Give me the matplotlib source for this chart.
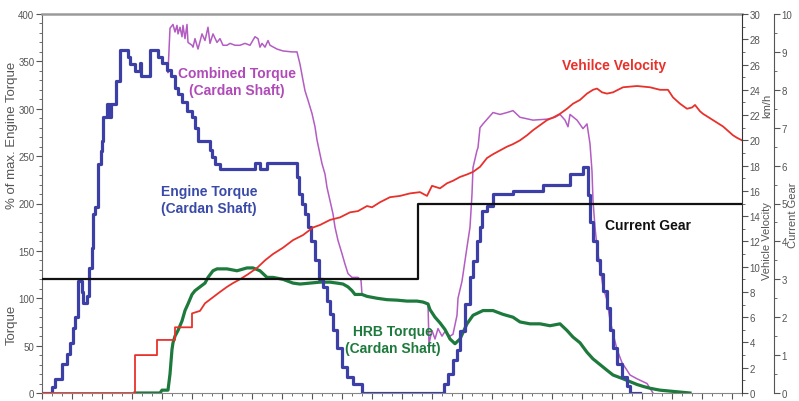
import matplotlib
matplotlib.use('Agg')
import matplotlib.pyplot as plt
from matplotlib.ticker import MultipleLocator, NullFormatter

plt.rcParams['font.family'] = ['Liberation Sans', 'DejaVu Sans']

# time axis (s), unlabeled in the original
engine_t = [0, 0.8, 1.0, 1.3, 2.0, 2.5, 2.8, 3.1, 3.3, 3.6, 4.0, 4.1, 4.5, 4.7, 5.0,
            5.1, 5.3, 5.6, 5.9, 6.0, 6.1, 6.5, 6.7, 6.9, 7.4, 7.8, 8.6, 8.8, 9.3,
            9.8, 9.9, 10.8, 11.6, 12.0, 12.5, 12.9, 13.3, 13.6, 14.0, 14.5, 15.0,
            15.3, 15.6, 16.8, 17.0, 17.3, 17.8, 21.3, 21.8, 22.5, 25.5, 25.7, 26.0,
            26.3, 26.6, 26.9, 27.3, 27.7, 28.1, 28.5, 28.8, 29.1, 29.5, 30.0, 30.5,
            31.1, 32.0, 40.2, 40.6, 41.1, 41.5, 41.8, 42.3, 42.8, 43.1, 43.5, 43.8,
            44.0, 44.5, 45.1, 47.1, 50.1, 52.8, 54.1, 54.6, 54.8, 55.1, 55.5, 55.8,
            56.1, 56.5, 56.8, 57.1, 57.5, 58.0, 58.5, 58.8, 59.8]
engine_torque = [0, 0, 6, 15, 31, 41, 53, 69, 80, 118, 107, 95, 102, 132, 153,
                 189, 196, 242, 255, 266, 291, 305, 291, 305, 329, 362, 355, 347, 340,
                 348, 335, 362, 355, 348, 341, 335, 322, 316, 307, 298, 291,
                 280, 266, 256, 249, 242, 236, 243, 236, 243, 228, 210, 199,
                 189, 175, 160, 140, 120, 112, 97, 83, 66, 48, 27, 17,
                 10, 0, 10, 20, 35, 45, 65, 94, 122, 139, 160, 175,
                 192, 197, 210, 213, 219, 231, 238, 209, 180, 160, 140, 126,
                 108, 90, 66, 48, 31, 17, 7, 0, 0]

combined_t = [12.5, 12.6, 12.8, 13.1, 13.3, 13.5, 13.6, 13.8, 14.0, 14.1, 14.3, 14.5,
              14.6, 15.0, 15.1, 15.3, 15.6, 16.0, 16.3, 16.6, 16.8, 17.1, 17.5, 17.8,
              18.1, 18.5, 18.8, 19.3, 19.8, 20.3, 20.8, 21.3, 21.6, 21.8, 22.0, 22.3,
              22.6, 22.8, 23.5, 24.1, 25.0, 25.5, 25.8, 26.1, 26.3, 26.6, 27.0, 27.3,
              27.5, 27.8, 28.0, 28.3, 28.5, 28.8, 29.1, 29.3, 29.6, 30.0, 30.3, 30.6,
              31.0, 31.6, 31.9, 32.0, 32.5, 33.5, 34.5, 35.5, 36.5, 37.5, 38.1, 38.6,
              38.7, 39.0, 39.3, 39.6, 40.0, 40.3, 40.8, 41.1, 41.5, 41.6, 42.0, 42.5,
              42.8, 43.0, 43.1, 43.5, 43.6, 43.8, 44.1, 45.1, 45.8, 46.5, 47.1, 47.8,
              49.1, 50.5, 51.3, 51.8, 52.3, 52.6, 52.8, 53.5, 54.1, 54.5, 54.8, 55.0,
              55.1, 55.3, 55.5, 55.8, 56.1, 56.5, 56.8, 57.1, 57.5, 58.0, 58.5, 58.8,
              59.5, 60.5, 60.8, 61.1]
combined_torque = [341, 338, 385, 389, 381, 388, 379, 386, 376, 388, 374, 389,
                   370, 367, 365, 374, 363, 379, 372, 386, 369, 379, 370, 374,
                   367, 367, 369, 367, 367, 369, 367, 376, 374, 365, 369, 365,
                   372, 367, 363, 361, 360, 360, 347, 330, 319, 309, 295, 281,
                   267, 252, 242, 231, 217, 203, 189, 175, 161, 147, 136, 126,
                   122, 122, 119, 104, 102, 100, 98.5, 98, 97, 97, 96, 94,
                   52, 66, 57, 68, 60, 65, 60, 62, 82, 100, 118, 154,
                   175, 210, 238, 256, 259, 280, 284, 296, 294, 296, 298, 291,
                   288, 289, 291, 294, 288, 281, 294, 288, 279, 284, 263, 234,
                   203, 175, 154, 133, 112, 98, 77, 63, 46, 32, 24, 19,
                   15, 10, 5, 0]

hrb_t = [9.3, 11.8, 12.0, 12.6, 12.8, 13.0, 13.1, 13.3, 13.6, 14.0, 14.3, 14.6,
         15.0, 15.3, 15.8, 16.3, 16.6, 17.1, 17.5, 18.5, 19.5, 20.5, 21.1, 21.8,
         22.5, 23.1, 24.1, 25.1, 25.8, 26.8, 27.8, 28.8, 29.5, 30.1, 30.6, 31.0,
         31.3, 32.0, 32.5, 33.5, 34.5, 35.5, 36.5, 37.5, 38.1, 38.6, 38.8, 39.3,
         39.8, 40.3, 40.8, 41.3, 41.8, 42.5, 43.1, 44.1, 45.1, 46.1, 47.1, 47.8,
         48.8, 49.8, 50.8, 51.8, 52.5, 53.1, 53.8, 54.5, 55.1, 55.8, 56.5, 57.1,
         58.1, 58.8, 59.5, 60.1, 60.8, 61.8, 63.8, 64.8]
hrb_torque = [0, 0, 3, 3, 20, 46, 53, 60, 66, 76, 87, 94,
              104, 108, 112, 116, 122, 129, 131, 131, 129, 132, 132, 129,
              122, 122, 120, 116, 115, 116, 117, 117, 116, 115, 112, 108,
              104, 104, 102, 100, 98.5, 98, 97, 97, 96, 94, 88, 80,
              74, 67, 57, 52, 57, 73, 82, 87, 87, 83, 80, 75,
              73, 73, 71, 73, 66, 59, 53, 43, 36, 30, 24, 19,
              15, 12, 9, 7, 5, 3, 1, 0]

velocity_t = [0, 9.3, 9.3, 11.5, 11.5, 13.3, 13.3, 15.0, 15.0, 15.8, 16.3, 16.8,
              17.3, 17.8, 18.5, 19.1, 19.8, 20.6, 21.5, 22.3, 23.1, 24.1, 25.1, 26.1,
              27.1, 27.8, 28.8, 29.8, 30.8, 31.6, 32.5, 33.0, 33.8, 34.8, 35.8, 36.8,
              37.8, 38.5, 39.0, 39.8, 40.5, 41.1, 41.8, 42.5, 43.1, 43.8, 44.5, 45.1,
              45.8, 46.5, 47.1, 47.8, 48.5, 49.1, 49.8, 50.5, 51.1, 51.8, 52.5, 53.1,
              53.8, 54.5, 55.1, 55.5, 56.0, 56.5, 57.1, 58.1, 59.5, 60.8, 61.8, 62.6,
              63.1, 63.8, 64.5, 65.0, 65.3, 65.8, 66.1, 67.1, 68.1, 69.1, 69.5, 70.0]
velocity_kmh = [0, 0, 3.0, 3.0, 4.2, 4.2, 5.2, 5.2, 6.3, 6.5, 7.1, 7.4,
                7.7, 8.0, 8.4, 8.7, 9.0, 9.4, 9.9, 10.5, 11.0, 11.5, 12.1, 12.5,
                13.1, 13.3, 13.7, 13.9, 14.3, 14.4, 14.8, 14.7, 15.1, 15.5, 15.6, 15.8,
                15.9, 15.6, 16.4, 16.2, 16.6, 16.8, 17.1, 17.3, 17.5, 17.9, 18.6, 18.9,
                19.2, 19.5, 19.7, 20.0, 20.4, 20.8, 21.2, 21.6, 21.8, 22.1, 22.5, 22.9,
                23.2, 23.7, 24.0, 24.1, 23.8, 23.7, 23.8, 24.2, 24.3, 24.2, 24.0, 24.0,
                23.4, 22.9, 22.5, 22.6, 22.8, 22.3, 22.1, 21.6, 21.1, 20.4, 20.2, 20.0]

gear_t = [0, 37.6, 37.6, 70]
gear = [3, 3, 5, 5]

W, H = 799, 402
fig = plt.figure(figsize=(W / 100, H / 100), dpi=100)
ax = fig.add_axes([42 / W, 8 / H, 700 / W, 379 / H])
ax2 = ax.twinx()
ax3 = ax.twinx()

ax.plot(combined_t, combined_torque, color='#b35cc2', lw=1.1, zorder=2)
ax.plot(hrb_t, hrb_torque, color='#1d7a3c', lw=2.3, zorder=3)
ax.plot(engine_t, engine_torque, color='#3b3fa6', lw=2.3, drawstyle='steps-post', zorder=4)
ax2.plot(velocity_t, velocity_kmh, color='#e8312b', lw=1.3)
ax3.plot(gear_t, gear, color='#111111', lw=1.6)

ax.set_xlim(0, 70)
ax.set_ylim(0, 400)
ax2.set_ylim(0, 30)
ax3.set_ylim(0, 10)

tick_col = '#555555'
ax.xaxis.set_major_locator(MultipleLocator(3))
ax.xaxis.set_minor_locator(MultipleLocator(1))
ax.xaxis.set_major_formatter(NullFormatter())
ax.yaxis.set_major_locator(MultipleLocator(50))
ax.yaxis.set_minor_locator(MultipleLocator(10))
ax2.yaxis.set_major_locator(MultipleLocator(2))
ax2.yaxis.set_minor_locator(MultipleLocator(1))
ax3.yaxis.set_major_locator(MultipleLocator(1))
ax3.yaxis.set_minor_locator(MultipleLocator(0.5))

for a in (ax, ax2, ax3):
    a.tick_params(which='major', direction='out', length=4, width=0.8,
                  colors=tick_col, labelsize=7, pad=1.5)
    a.tick_params(which='minor', direction='out', length=2, width=0.6, colors=tick_col)

ax.spines['top'].set_color('#9a9a9a')
ax.spines['top'].set_linewidth(1.8)
ax.spines['left'].set_color('#666666')
ax.spines['bottom'].set_color('#888888')
ax.spines['right'].set_visible(False)
for s in ('top', 'left', 'bottom'):
    ax2.spines[s].set_visible(False)
    ax3.spines[s].set_visible(False)
ax2.spines['right'].set_color('#333333')
ax3.spines['right'].set_position(('axes', 32 / 700 + 1))
ax3.spines['right'].set_color('#555555')


def px_text(x, y, s, **kw):
    fig.text(x / W, 1 - y / H, s, ha='center', va='center', **kw)


# axis titles
px_text(12, 135, '% of max. Engine Torque', rotation=90, fontsize=9.5, color=tick_col)
px_text(12, 325, 'Torque', rotation=90, fontsize=9.5, color=tick_col)
px_text(767, 106, 'km/h', rotation=90, fontsize=8, color=tick_col)
px_text(767, 241, 'Vehicle Velocity', rotation=90, fontsize=8, color=tick_col)
px_text(793, 215, 'Current Gear', rotation=90, fontsize=8, color=tick_col)

# series annotations
bold = dict(fontsize=10, fontweight='bold')
px_text(237, 74, 'Combined Torque', color='#b04ab8', **bold)
px_text(237, 91, '(Cardan Shaft)', color='#b04ab8', **bold)
px_text(209, 192, 'Engine Torque', color='#3a4aa8', **bold)
px_text(209, 209, '(Cardan Shaft)', color='#3a4aa8', **bold)
px_text(614, 66, 'Vehilce Velocity', color='#e8312b', **bold)
px_text(648, 226, 'Current Gear', color='#111111', **bold)
px_text(393, 332, 'HRB Torque', color='#1d7a3c', **bold)
px_text(393, 349, '(Cardan Shaft)', color='#1d7a3c', **bold)

fig.savefig('out.png', dpi=100)
